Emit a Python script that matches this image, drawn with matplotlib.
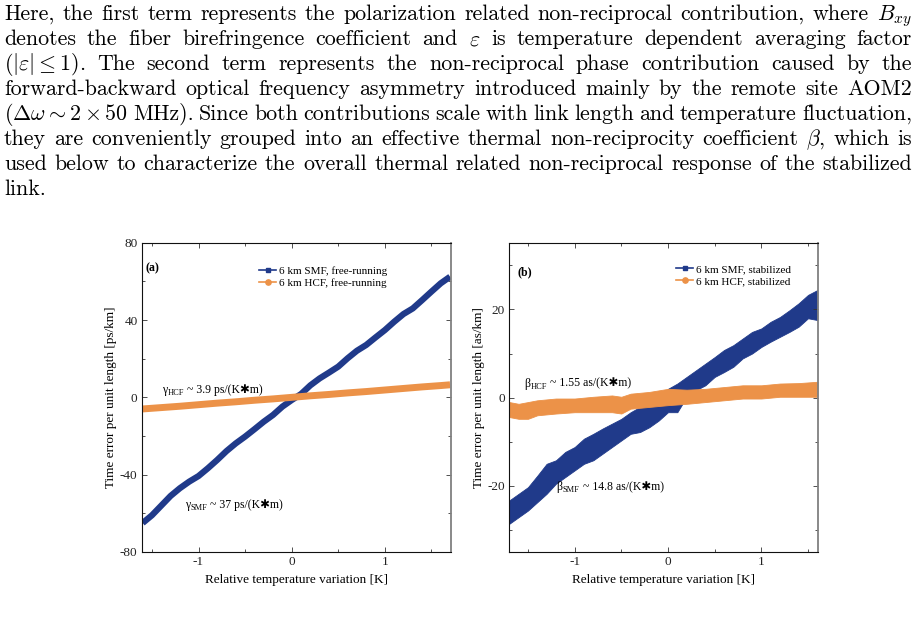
import matplotlib
matplotlib.use("Agg")
import matplotlib.pyplot as plt
from matplotlib.ticker import MultipleLocator
from matplotlib.transforms import offset_copy

# ---------------- data ----------------
paragraph_lines = [
    r"Here, the first term represents the polarization related non-reciprocal contribution, where $B_{xy}$",
    r"denotes the fiber birefringence coefficient and $\varepsilon$ is temperature dependent averaging factor",
    r"($|\varepsilon|\leq 1$).  The second term represents the non-reciprocal phase contribution caused by the",
    r"forward-backward optical frequency asymmetry introduced mainly by the remote site AOM2",
    r"($\Delta\omega\sim 2\times 50$ MHz). Since both contributions scale with link length and temperature fluctuation,",
    r"they are conveniently grouped into an effective thermal non-reciprocity coefficient $\beta$, which is",
    r"used below to characterize the overall thermal related non-reciprocal response of the stabilized",
    r"link.",
]

# panel (a): free-running
a_smf_x = [-1.6, -1.5, -1.4, -1.3, -1.2, -1.1, -1.0, -0.9, -0.8, -0.7, -0.6, -0.5, -0.4, -0.3, -0.2, -0.1,
           0.0, 0.1, 0.2, 0.3, 0.4, 0.5, 0.6, 0.7, 0.8, 0.9, 1.0, 1.1, 1.2, 1.3, 1.4, 1.5, 1.6, 1.7]
a_smf_y = [-65.0, -61.0, -56.0, -51.0, -47.0, -43.6, -40.7, -36.7, -32.4, -27.8, -23.8, -20.3, -16.5, -12.6,
           -9.1, -4.8, -1.4, 1.7, 6.2, 9.8, 12.8, 15.9, 20.2, 24.1, 27.1, 31.0, 34.8, 39.1, 43.1, 46.0, 50.3,
           54.7, 59.0, 62.4]
a_hcf_x = [-1.6, -1.4, -1.2, -1.0, -0.8, -0.6, -0.4, -0.2, 0.0, 0.2, 0.4, 0.6, 0.8, 1.0, 1.2, 1.4, 1.6, 1.7]
a_hcf_y = [-6.0, -5.3, -4.6, -3.8, -3.0, -2.3, -1.5, -0.8, 0.0, 0.8, 1.5, 2.3, 3.0, 3.8, 4.6, 5.4, 6.1, 6.5]

# panel (b): stabilized (upper / lower envelope of the noisy trace)
b_smf_x = [-1.7, -1.6, -1.5, -1.4, -1.3, -1.2, -1.1, -1.0, -0.9, -0.8, -0.7, -0.6, -0.5, -0.4, -0.3, -0.2,
           -0.1, 0.0, 0.1, 0.2, 0.3, 0.4, 0.5, 0.6, 0.7, 0.8, 0.9, 1.0, 1.1, 1.2, 1.3, 1.4, 1.5, 1.6]
b_smf_hi = [-23.3, -21.8, -20.3, -17.7, -15.0, -14.2, -12.3, -11.2, -9.3, -8.2, -7.0, -5.9, -4.8, -3.3, -2.1,
            -1.4, 0.2, 2.0, 3.2, 4.7, 6.2, 7.7, 9.2, 10.8, 11.9, 13.4, 14.9, 15.7, 17.2, 18.3, 19.8, 21.4, 23.3, 24.4]
b_smf_lo = [-28.6, -27.1, -25.6, -23.7, -21.8, -19.5, -18.0, -16.5, -15.0, -14.2, -12.7, -11.2, -9.7, -8.2, -7.8,
            -6.7, -5.2, -3.3, -3.3, 0.2, 1.7, 2.8, 4.7, 5.8, 7.0, 8.9, 10.0, 11.5, 12.7, 13.8, 14.9, 16.1, 18.0, 17.6]
b_hcf_x = [-1.7, -1.6, -1.5, -1.4, -1.2, -1.0, -0.8, -0.6, -0.5, -0.4, -0.2, 0.0, 0.2, 0.4, 0.6, 0.8, 1.0,
           1.2, 1.4, 1.6]
b_hcf_hi = [-1.0, -1.4, -1.0, -0.6, -0.2, -0.2, 0.2, 0.5, 0.2, 0.9, 1.3, 2.0, 1.8, 2.0, 2.4, 2.8, 2.8, 3.2, 3.3, 3.6]
b_hcf_lo = [-4.4, -4.8, -4.8, -4.0, -3.6, -3.3, -3.3, -3.3, -3.6, -2.5, -2.1, -1.7, -1.4, -1.0, -0.6, -0.2,
            -0.2, 0.2, 0.2, 0.2]

x_ticks = [-1, 0, 1]
a_yticks = [-80, -40, 0, 40, 80]
b_yticks = [-20, 0, 20]

BLUE = "#203a8a"
ORANGE = "#ec9248"

# ---------------- figure ----------------
W, H = 917, 620
fig = plt.figure(figsize=(W / 100, H / 100), dpi=100)
renderer = fig.canvas.get_renderer()

# ---------- justified paragraph ----------
PFS = 15.8
def tokenize(s):
    toks, cur, inmath = [], "", False
    for ch in s:
        if ch == "$":
            inmath = not inmath
        if ch == " " and not inmath:
            if cur:
                toks.append(cur)
            cur = ""
        else:
            cur += ch
    if cur:
        toks.append(cur)
    return toks

x_left, x_right = 4.0, 912.0
base0, lstep = 20.0, 25.0
for i, line in enumerate(paragraph_lines):
    toks = tokenize(line)
    ws = []
    for t in toks:
        tt = fig.text(0, 0, t, fontsize=PFS, family="cmr10", math_fontfamily="cm")
        ws.append(tt.get_window_extent(renderer).width)
        tt.remove()
    last = (i == len(paragraph_lines) - 1)
    if last or len(toks) == 1:
        gap = PFS * 100 / 72 * 0.33
    else:
        gap = (x_right - x_left - sum(ws)) / (len(toks) - 1)
    x = x_left
    yb = base0 + i * lstep
    for t, w in zip(toks, ws):
        fig.text(x / W, 1 - yb / H, t, fontsize=PFS, family="cmr10", math_fontfamily="cm",
                 ha="left", va="baseline")
        x += w + gap

# ---------- axes ----------
SERIF = ["Liberation Serif", "DejaVu Serif"]
STAR = ["Liberation Serif", "DejaVu Sans"]
TFS = 9.5
AFS = 8.5

def style_axes(ax, xlim, ylim, yticks, yminor):
    ax.set_xlim(*xlim)
    ax.set_ylim(*ylim)
    ax.set_xticks(x_ticks)
    ax.set_xticklabels([str(v) for v in x_ticks], family=SERIF, fontsize=TFS, color="#222222")
    ax.set_yticks(yticks)
    ax.set_yticklabels([str(v) for v in yticks], family=SERIF, fontsize=TFS, color="#222222")
    ax.xaxis.set_minor_locator(MultipleLocator(0.5))
    ax.yaxis.set_minor_locator(MultipleLocator(yminor))
    ax.tick_params(which="both", direction="in", top=True, right=True, width=0.6, color="#333333")
    ax.tick_params(which="major", length=3.5, pad=3)
    ax.tick_params(which="minor", length=2.5)
    for s in ["left", "bottom", "top"]:
        ax.spines[s].set_color("#111111")
        ax.spines[s].set_linewidth(0.8)
    ax.spines["right"].set_color("#808080")
    ax.spines["right"].set_linewidth(1.3)
    ax.set_xlabel("Relative temperature variation [K]", family=SERIF, fontsize=TFS, labelpad=4)

def rich_label(ax, x, y, greek, sub, rest):
    # greek letter, lowered small subscript, then the remainder (with a heavy asterisk)
    segs = [(greek, AFS, 0, 0.5), (sub, 6.0, -2.0, 3.0), (rest, AFS, 0, 0)]
    dx = 0.0
    for s, size, dy, pad in segs:
        tr = offset_copy(ax.transData, fig=fig, x=dx, y=dy, units="dots")
        t = ax.text(x, y, s, transform=tr, fontsize=size, family=STAR, ha="left", va="baseline")
        dx += t.get_window_extent(renderer).width + pad

ax1 = fig.add_axes([141.7 / W, 1 - 552 / H, (451 - 141.7) / W, (552 - 242.7) / H])
ax2 = fig.add_axes([509.3 / W, 1 - 552 / H, (818.3 - 509.3) / W, (552 - 243.3) / H])

# panel (a)
ax1.plot(a_smf_x, a_smf_y, color=BLUE, lw=4.5, solid_capstyle="butt")
ax1.plot(a_hcf_x, a_hcf_y, color=ORANGE, lw=5.0, solid_capstyle="butt")
style_axes(ax1, (-1.61, 1.71), (-80, 80), a_yticks, 20)
ax1.set_ylabel("Time error per unit length [ps/km]", family=SERIF, fontsize=TFS, labelpad=2)
ax1.text(0.012, 0.917, "(a)", transform=ax1.transAxes, family=SERIF, fontsize=8.5, fontweight="bold",
         ha="left", va="center")
rich_label(ax1, -1.39, 2.5, "γ", "HCF", "~ 3.9 ps/(K✱m)")
rich_label(ax1, -1.15, -57.1, "γ", "SMF", "~ 37 ps/(K✱m)")
h1, = ax1.plot([], [], color=BLUE, lw=1.2, marker="s", ms=3.5)
h2, = ax1.plot([], [], color=ORANGE, lw=1.2, marker="o", ms=3.8)
ax1.legend([h1, h2], ["6 km SMF, free-running", "6 km HCF, free-running"], loc="upper left",
           bbox_to_anchor=(0.38, 0.925), frameon=False, borderpad=0, borderaxespad=0,
           handlelength=1.5, handletextpad=0.3, labelspacing=0.2, prop={"family": SERIF, "size": 8})

# panel (b)
ax2.fill_between(b_smf_x, b_smf_lo, b_smf_hi, color=BLUE, lw=0.6, edgecolor=BLUE)
ax2.fill_between(b_hcf_x, b_hcf_lo, b_hcf_hi, color=ORANGE, lw=0.6, edgecolor=ORANGE)
style_axes(ax2, (-1.70, 1.61), (-35, 35), b_yticks, 10)
ax2.set_ylabel("Time error per unit length [as/km]", family=SERIF, fontsize=TFS, labelpad=2)
ax2.text(0.028, 0.907, "(b)", transform=ax2.transAxes, family=SERIF, fontsize=8.5, fontweight="bold",
         ha="left", va="center")
rich_label(ax2, -1.536, 2.5, "β", "HCF", "~ 1.55 as/(K✱m)")
rich_label(ax2, -1.196, -21.0, "β", "SMF", "~ 14.8 as/(K✱m)")
h3, = ax2.plot([], [], color=BLUE, lw=1.2, marker="s", ms=3.5)
h4, = ax2.plot([], [], color=ORANGE, lw=1.2, marker="o", ms=3.8)
ax2.legend([h3, h4], ["6 km SMF, stabilized", "6 km HCF, stabilized"], loc="upper left",
           bbox_to_anchor=(0.541, 0.932), frameon=False, borderpad=0, borderaxespad=0,
           handlelength=1.5, handletextpad=0.3, labelspacing=0.2, prop={"family": SERIF, "size": 8})

fig.savefig("out.png", dpi=100)
